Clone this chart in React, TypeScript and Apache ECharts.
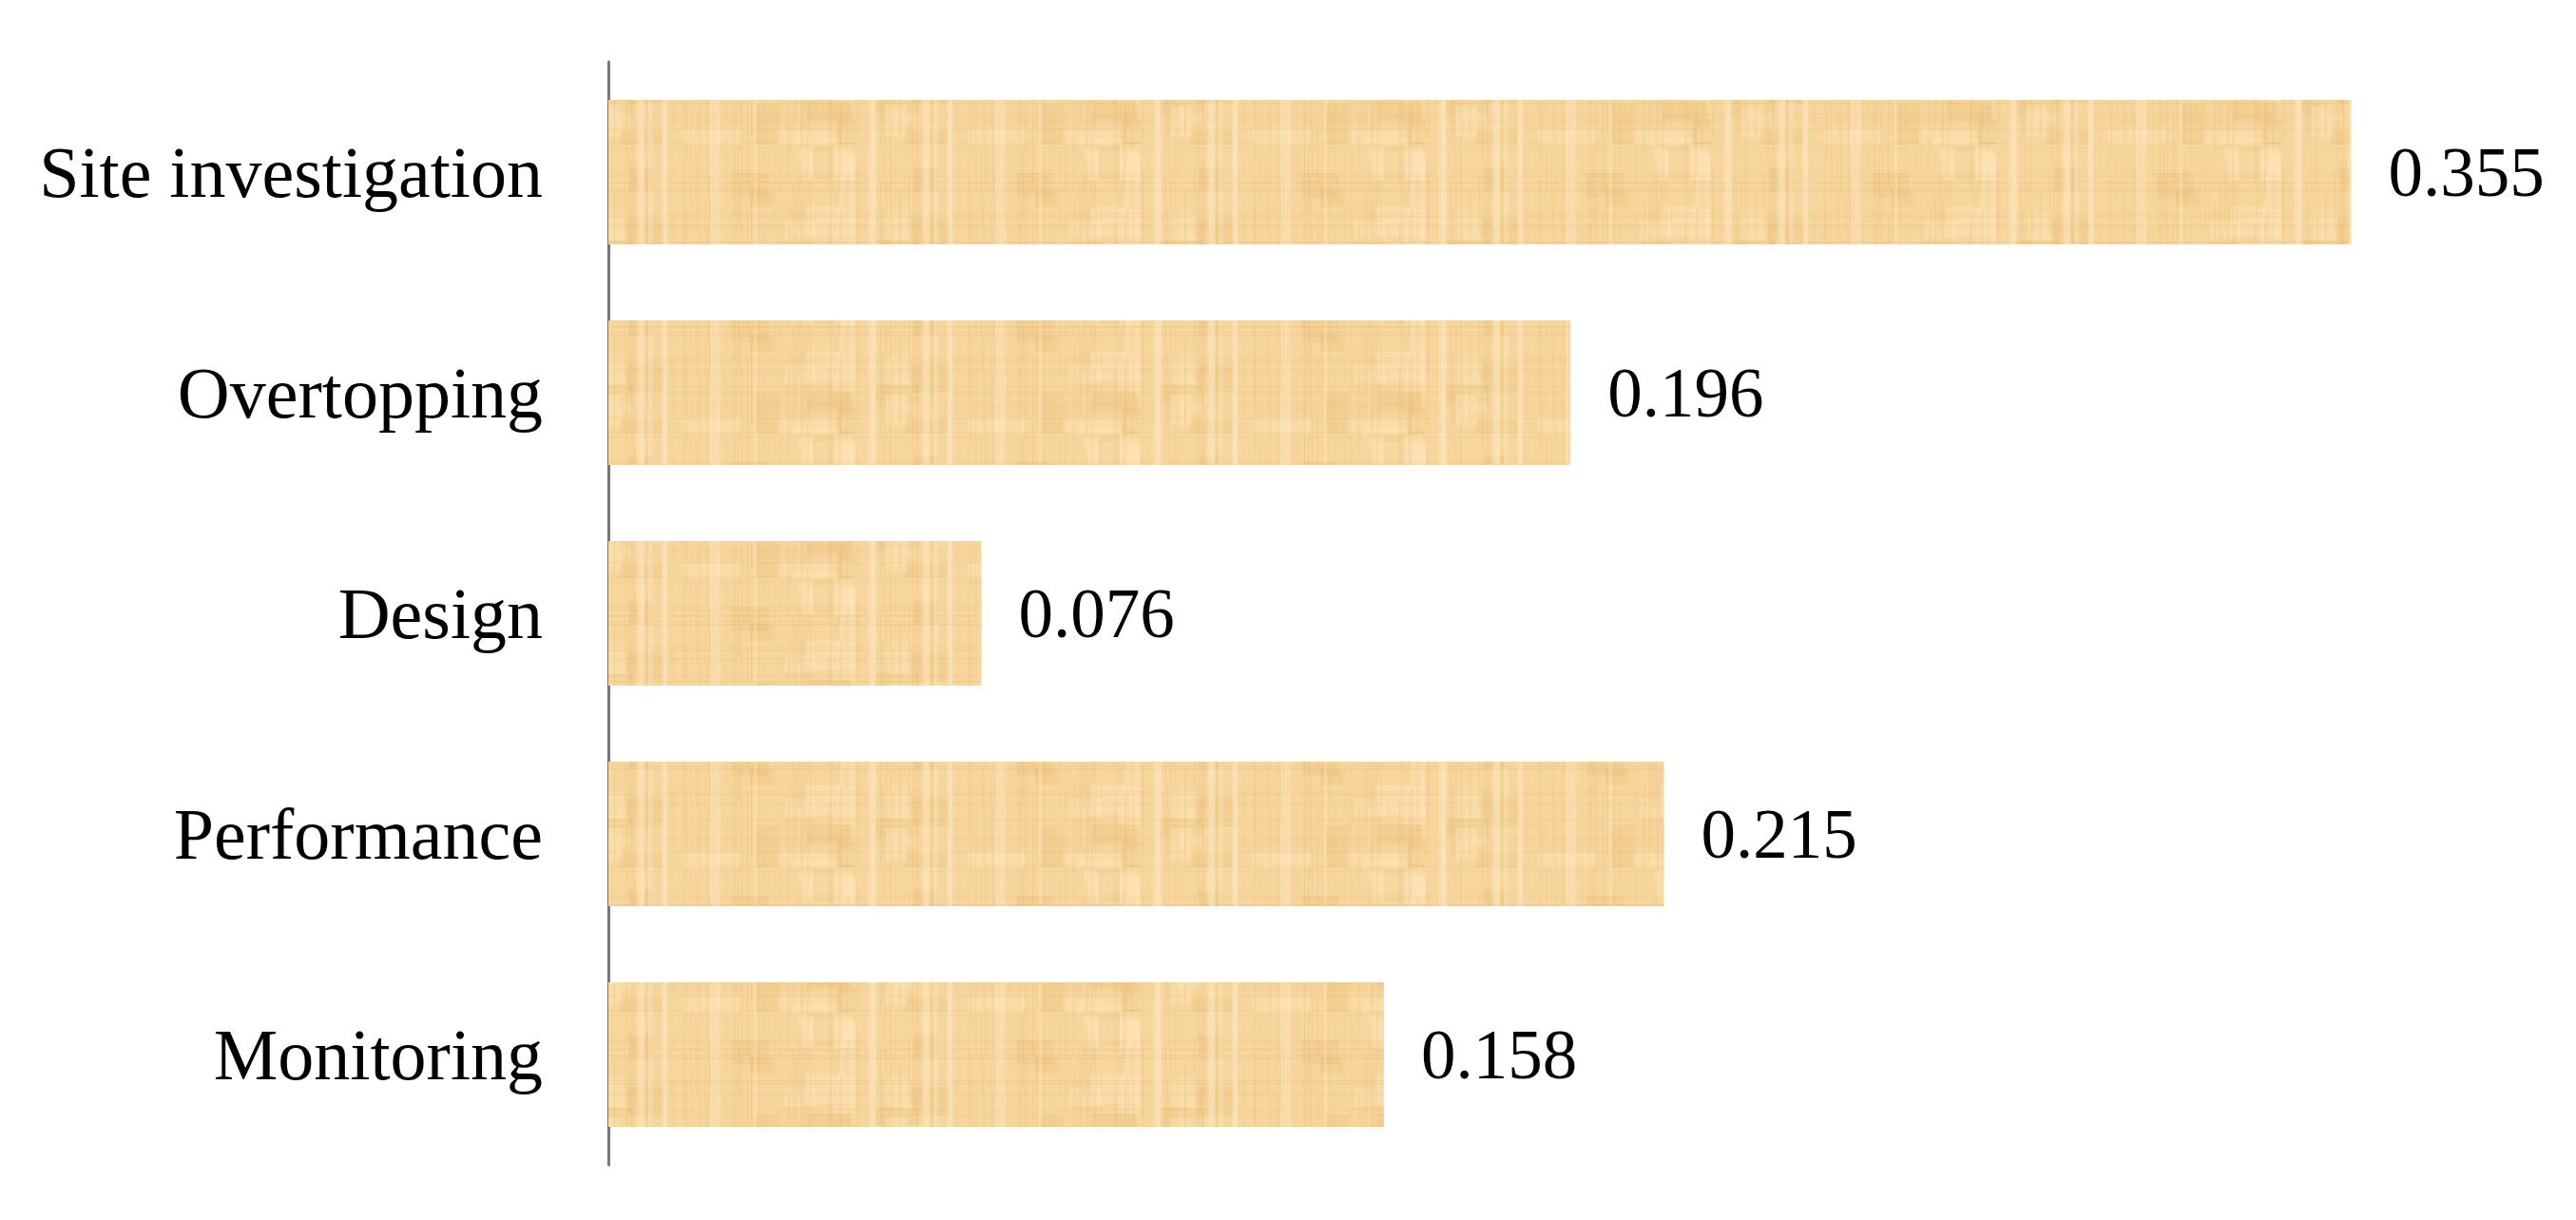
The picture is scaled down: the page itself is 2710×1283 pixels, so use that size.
import React, { useEffect, useRef } from "react";
import * as echarts from "echarts";

const categories = ["Site investigation", "Overtopping", "Design", "Performance", "Monitoring"];
const values = [0.355, 0.196, 0.076, 0.215, 0.158];

function hash(n: number): number {
  const s = Math.sin(n * 127.1 + 311.7) * 43758.5453;
  return s - Math.floor(s);
}

function makeTexture(): HTMLCanvasElement {
  const c = document.createElement("canvas");
  c.width = 300;
  c.height = 152;
  const ctx = c.getContext("2d")!;
  ctx.fillStyle = "#F7D69E";
  ctx.fillRect(0, 0, c.width, c.height);
  for (let i = 0; i < 24; i++) {
    const x = hash(i) * c.width;
    const y = hash(i + 50) * c.height;
    const w = 20 + hash(i + 100) * 50;
    const h = 15 + hash(i + 150) * 40;
    const light = hash(i + 200) > 0.5;
    ctx.fillStyle = light ? "rgba(255,232,190,0.35)" : "rgba(232,186,110,0.25)";
    ctx.fillRect(x, y, w, h);
  }
  for (let x = 0; x < c.width; x += 2) {
    const r = hash(x + 300);
    if (r < 0.45) continue;
    const a = 0.05 + 0.12 * hash(x + 400);
    const y0 = hash(x + 500) * c.height * 0.6;
    const len = c.height * (0.4 + 0.6 * hash(x + 600));
    ctx.fillStyle = `rgba(205,155,80,${a})`;
    ctx.fillRect(x, y0, 1.2, len);
    ctx.fillRect(x, 0, 1.2, Math.max(0, y0 + len - c.height));
  }
  for (let y = 0; y < c.height; y += 3) {
    const r = hash(y + 700);
    if (r < 0.55) continue;
    const a = 0.05 + 0.12 * hash(y + 800);
    ctx.fillStyle = `rgba(210,160,85,${a})`;
    ctx.fillRect(0, y, c.width, 1.5);
  }
  for (let i = 0; i < 10; i++) {
    const x = hash(i + 900) * c.width;
    ctx.fillStyle = "rgba(255,238,205,0.3)";
    ctx.fillRect(x, 0, 3 + hash(i + 950) * 6, c.height);
  }
  return c;
}

export default function App() {
  const ref = useRef<HTMLDivElement>(null);
  useEffect(() => {
    if (!ref.current) return;
    const chart = echarts.init(ref.current, undefined, { renderer: "svg" });
    const tex = makeTexture();
    chart.setOption({
      animation: false,
      backgroundColor: "#ffffff",
      grid: { left: 640, top: 65, width: 2066, height: 1160, containLabel: false },
      xAxis: {
        type: "value",
        min: 0,
        max: 0.4,
        show: false,
      },
      yAxis: {
        type: "category",
        data: categories,
        inverse: true,
        axisLine: { show: true, lineStyle: { color: "#777777", width: 3 } },
        axisTick: { show: false },
        axisLabel: {
          margin: 69,
          fontFamily: "Liberation Serif",
          fontSize: 76,
          color: "#000000",
        },
      },
      series: [
        {
          type: "bar",
          data: values,
          barCategoryGap: "34.5%",
          itemStyle: {
            color: { image: tex, repeat: "repeat" } as any,
          },
          label: {
            show: true,
            position: "right",
            distance: 39,
            fontFamily: "Liberation Serif",
            fontSize: 73,
            color: "#000000",
            formatter: (p: any) => p.value.toFixed(3),
          },
        },
      ],
    });
    return () => chart.dispose();
  }, []);
  return (
    <div
      ref={ref}
      style={{ position: "absolute", left: 0, top: 0, width: 2710, height: 1283 }}
    />
  );
}
